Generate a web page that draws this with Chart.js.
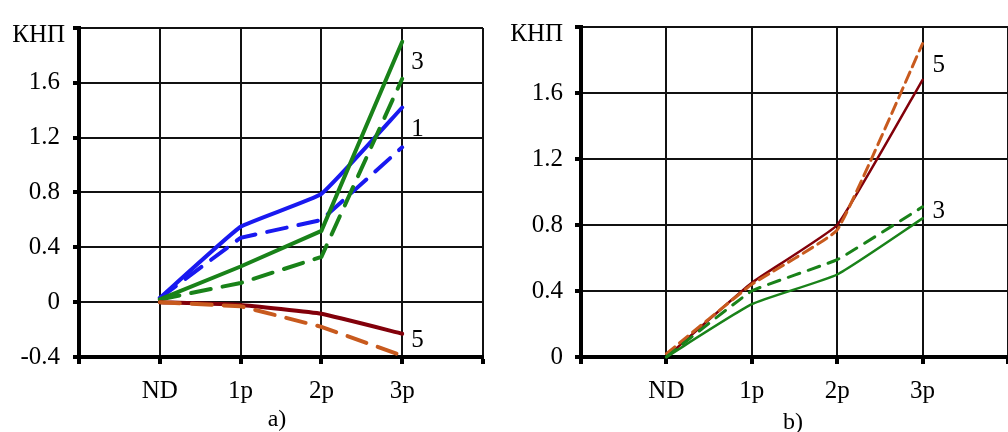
<!DOCTYPE html>
<html>
<head>
<meta charset="utf-8">
<script src="https://cdn.jsdelivr.net/npm/chart.js@4/dist/chart.umd.min.js"></script>
<style>
  html, body { margin: 0; padding: 0; background: #fff; overflow: hidden; }
  #page { position: relative; width: 1008px; height: 432px; overflow: hidden; }
  .box { position: absolute; top: 0; height: 432px; }
  #boxA { left: 0; width: 500px; }
  #boxB { left: 500px; width: 520px; }
  .cap { position: absolute; font-family: "Liberation Serif", serif; font-size: 24px; color: #000; transform: translate(-50%, -50%); }
</style>
</head>
<body>
<div id="page">
  <div class="box" id="boxA"><canvas id="chartA" width="500" height="432"></canvas></div>
  <div class="box" id="boxB"><canvas id="chartB" width="520" height="432"></canvas></div>
  <div class="cap" style="left:277px; top:418px;">a)</div>
  <div class="cap" style="left:793px; top:421px;">b)</div>
</div>
<script>
// categories on the x axis
var categories = ["ND", "1p", "2p", "3p"];
var yTitle = "КНП";

// panel a) values
var a1Solid = [0.03, 0.55, 0.79, 1.42];
var a1Dash  = [0.03, 0.47, 0.60, 1.13];
var a3Solid = [0.02, 0.26, 0.52, 1.90];
var a3Dash  = [0.02, 0.14, 0.33, 1.63];
var a5Solid = [0.00, -0.02, -0.085, -0.23];
var a5Dash  = [0.00, -0.03, -0.18, -0.39];

// panel b) values
var b5Solid = [0.00, 0.45, 0.80, 1.68];
var b5Dash  = [0.02, 0.44, 0.77, 1.90];
var b3Solid = [0.00, 0.32, 0.50, 0.84];
var b3Dash  = [0.00, 0.40, 0.59, 0.91];

// y ticks
var yTicksA = [-0.4, 0, 0.4, 0.8, 1.2, 1.6, 2.0];
var yTicksB = [0, 0.4, 0.8, 1.2, 1.6, 2.0];

// curve numbers: [text, y value where the number sits]
var numsA = [["3", 1.75], ["1", 1.26], ["5", -0.28]];
var numsB = [["5", 1.77], ["3", 0.88]];

var BLUE = "rgb(25,25,240)";
var GREEN = "rgb(25,130,25)";
var DARKRED = "rgb(130,0,10)";
var BROWN = "rgb(200,90,30)";
var FONT = "Liberation Serif";

function pts(arr){
    var out = [];
    for (let i = 0; i < arr.length; i++){
        out.push({x: i, y: arr[i]});
    }
    return out;
}

function line(data, color, width, dash, tension){
    return {
        data: pts(data),
        borderColor: color,
        backgroundColor: color,
        borderWidth: width,
        borderDash: dash,
        borderCapStyle: "round",
        pointRadius: 0,
        tension: tension,
        clip: false,
        fill: false
    };
}

// draws the КНП label and the curve numbers
var textPlugin = {
    id: "texts",
    afterDatasetsDraw: function(chart, args, opts){
        var ctx = chart.ctx;
        var area = chart.chartArea;
        ctx.save();
        ctx.fillStyle = "#000";
        ctx.font = "25px '" + FONT + "'";
        ctx.textAlign = "right";
        ctx.textBaseline = "middle";
        ctx.fillText(yTitle, area.left - opts.titleDx, area.top + 7);
        ctx.textAlign = "left";
        var xs = chart.scales.x, ys = chart.scales.y;
        var px = xs.getPixelForValue(3);
        for (let i = 0; i < opts.nums.length; i++){
            ctx.fillText(opts.nums[i][0], px + opts.numDx, ys.getPixelForValue(opts.nums[i][1]));
        }
        ctx.restore();
    }
};

function makeChart(id, datasets, yMin, yTicks, yWidth, padTop, padRight, labelPad, nums, titleDx, numDx){
    return new Chart(id, {
        type: "line",
        data: { datasets: datasets },
        plugins: [textPlugin],
        options: {
            responsive: false,
            animation: false,
            events: [],
            layout: { padding: { top: padTop, right: padRight, bottom: 0, left: 0 } },
            plugins: {
                legend: { display: false },
                tooltip: { enabled: false },
                texts: { nums: nums, titleDx: titleDx, numDx: numDx }
            },
            scales: {
                x: {
                    type: "linear",
                    min: -1,
                    max: 4,
                    afterBuildTicks: function(s){
                        s.ticks = [-1, 0, 1, 2, 3, 4].map(v => ({value: v}));
                    },
                    afterFit: function(s){ s.height = 75; },
                    grid: { color: "#111", lineWidth: 2, tickLength: 7, tickColor: "#000", tickWidth: 4 },
                    border: { color: "#000", width: 4 },
                    ticks: {
                        padding: 12,
                        color: "#000",
                        font: { family: FONT, size: 25 },
                        maxRotation: 0,
                        autoSkip: false,
                        callback: function(v){
                            return (v >= 0 && v < categories.length) ? categories[v] : "";
                        }
                    }
                },
                y: {
                    type: "linear",
                    min: yMin,
                    max: 2.0,
                    afterBuildTicks: function(s){
                        s.ticks = yTicks.map(v => ({value: v}));
                    },
                    afterFit: function(s){ s.width = yWidth; },
                    grid: { color: "#111", lineWidth: 2, tickLength: 6, tickColor: "#000", tickWidth: 4 },
                    border: { color: "#000", width: 4 },
                    ticks: {
                        padding: labelPad,
                        color: "#000",
                        font: { family: FONT, size: 25 },
                        callback: function(v){
                            if (Math.abs(v - 2.0) < 1e-6) return "";
                            return String(Math.round(v * 10) / 10);
                        }
                    }
                }
            }
        }
    });
}

makeChart("chartA", [
    line(a5Dash, BROWN, 4, [20, 12], 0),
    line(a5Solid, DARKRED, 4, [], 0.1),
    line(a3Dash, GREEN, 4, [20, 12], 0),
    line(a3Solid, GREEN, 4, [], 0),
    line(a1Dash, BLUE, 4, [20, 12], 0),
    line(a1Solid, BLUE, 4, [], 0.1)
], -0.4, yTicksA, 79, 18, 17, 13, numsA, 14, 9);

makeChart("chartB", [
    line(b3Dash, GREEN, 3, [12, 9], 0.1),
    line(b3Solid, GREEN, 2.5, [], 0.15),
    line(b5Dash, BROWN, 3, [11, 6], 0.1),
    line(b5Solid, DARKRED, 2.5, [], 0.1)
], 0, yTicksB, 81, 13, 6, 12, numsB, 18, 10);
</script>
</body>
</html>
